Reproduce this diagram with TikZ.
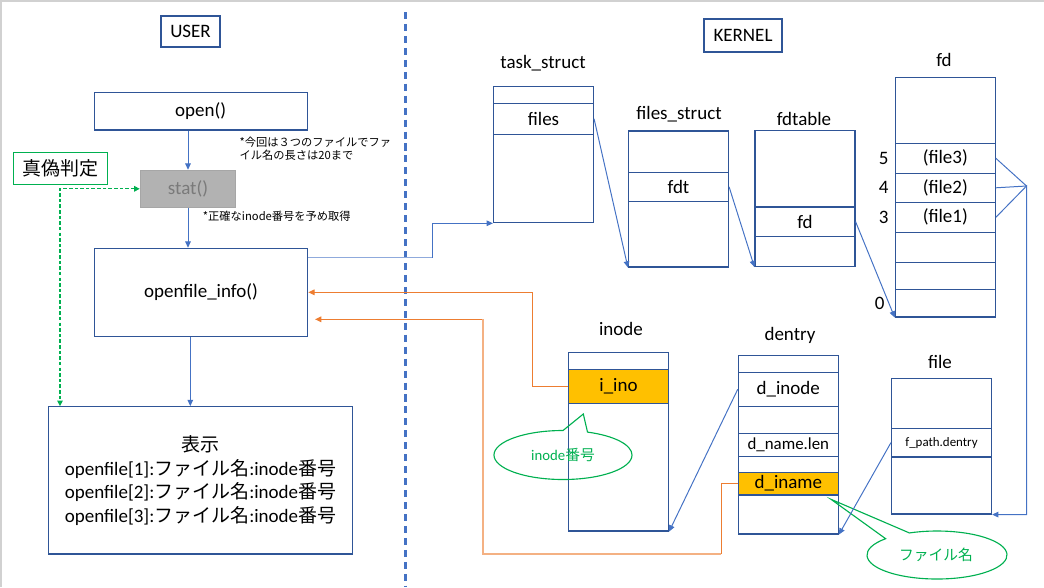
\documentclass[tikz,border=0pt]{standalone}
\usepackage{fontspec}
\setmainfont{Carlito}
\newfontfamily\jpfont{Noto Sans CJK JP}
\usepackage{tikz}
\usetikzlibrary{positioning,arrows.meta}
\definecolor{boxblue}{HTML}{2F5597}
\definecolor{lineblue}{HTML}{4472C4}
\definecolor{lightblue}{HTML}{8FAADC}
\definecolor{orangeline}{HTML}{ED7D31}
\definecolor{peachline}{HTML}{F4B183}
\definecolor{gold}{HTML}{FFC000}
\definecolor{okgreen}{HTML}{00B050}

\begin{document}
\begin{tikzpicture}[x=0.025cm, y=-0.025cm, font=\fontsize{13.5}{16.7}\selectfont]
	\tikzstyle{box_style} = [draw=boxblue, line width=0.8pt, inner sep=0pt]
	\tikzstyle{row_style} = [box_style, minimum width=2.5cm]
	\tikzstyle{hit_style} = [row_style, fill=gold]
	\tikzstyle{edge_style} = [draw=lineblue, line width=0.7pt, -{Triangle[length=4.5pt,width=4pt]}]
	\tikzstyle{line_style} = [draw=lineblue, line width=0.7pt]
	\tikzstyle{orange_edge} = [draw=orangeline, line width=0.8pt, -{Triangle[length=4.5pt,width=4pt]}]
	\tikzstyle{green_dash} = [draw=okgreen, line width=0.8pt, dash pattern=on 2.5pt off 1.5pt, {Triangle[length=4pt,width=4pt]}-{Triangle[length=4pt,width=4pt]}]
	\tikzstyle{callout_style} = [draw=okgreen, line width=0.8pt]
	\tikzstyle{jp_small} = [font=\jpfont\fontsize{8}{9.5}\selectfont]
	\useasboundingbox (0,0) rectangle (1044,587);
	\draw[black!18, line width=1.5pt] (1,587) -- (1,1) -- (1044,1);

	% separator
	\draw[lineblue, line width=1.5pt, dash pattern=on 5pt off 3.5pt] (405.5,12) -- (405.5,587);

	% user side
	\node[box_style, minimum width=1.475cm, minimum height=0.775cm] (user) at (190.5,31.5) {USER};
	\node[box_style, minimum width=5.3175cm, minimum height=0.9425cm] (open) at (200.7,111.2) {open()};
	\node[draw=black!35, fill=black!30, text=black!52, line width=0.8pt, minimum width=2.385cm, minimum height=0.925cm] (stat) at (188,188.8) {stat()};
	\node[draw=okgreen, line width=0.8pt, minimum width=2.36cm, minimum height=0.8cm, font=\jpfont\fontsize{13.5}{16}\selectfont] (judge) at (60.5,168.3) {真偽判定};
	\node[box_style, minimum width=5.335cm, minimum height=2.2cm] (info) at (201,292.3) {openfile\_info()};
	\node[box_style, minimum width=7.59cm, minimum height=3.6825cm, align=center] (disp) at (200.5,480.35)
		{{\jpfont 表示}\\openfile[1]:{\jpfont ファイル名}:inode{\jpfont 番号}\\openfile[2]:{\jpfont ファイル名}:inode{\jpfont 番号}\\openfile[3]:{\jpfont ファイル名}:inode{\jpfont 番号}};
	\node[jp_small, anchor=west, inner sep=0pt, align=left] (note_open) at (239.3,148.4) {*今回は３つのファイルでファ\\イル名の長さは20まで};
	\node[jp_small, anchor=west, inner sep=0pt] (note_stat) at (202.7,216.7) {*正確なinode番号を予め取得};

	% kernel side
	\node[box_style, minimum width=1.95cm, minimum height=0.825cm] (kernel) at (743,35.5) {KERNEL};

	\node (t_task) at (543,63) {task\_struct};
	\node[row_style, minimum height=0.425cm] (ts0) at (543.5,94.8) {};
	\node[row_style, minimum height=0.775cm] (ts1) at (543.5,118.8) {files};
	\node[row_style, minimum height=2.21cm] (ts2) at (543.5,178.5) {};

	\node (t_files) at (679,114) {files\_struct};
	\node[row_style, minimum height=1.0325cm] (fs0) at (678.5,151.65) {};
	\node[row_style, minimum height=0.725cm] (fs1) at (678.5,186.8) {fdt};
	\node[row_style, minimum height=1.6425cm] (fs2) at (678.5,234.15) {};

	\node (t_fdtable) at (804,119) {fdtable};
	\node[row_style, minimum height=1.9175cm] (ft0) at (805,168.65) {};
	\node[row_style, minimum height=0.7325cm] (ft1) at (805,221.65) {fd};
	\node[row_style, minimum height=0.755cm] (ft2) at (805,251.4) {};

	\node (t_fd) at (944,60) {fd};
	\node[row_style, minimum height=1.65cm] (fdx) at (945.3,110.3) {};
	\node[row_style, minimum height=0.75cm] (fd5) at (945.3,158.3) {(file3)};
	\node[row_style, minimum height=0.725cm] (fd4) at (945.3,187.8) {(file2)};
	\node[row_style, minimum height=0.75cm] (fd3) at (945.3,217.3) {(file1)};
	\node[row_style, minimum height=0.75cm] (fd2) at (945.3,247.3) {};
	\node[row_style, minimum height=0.675cm] (fd1) at (945.3,275.8) {};
	\node[row_style, minimum height=0.6925cm] (fd0) at (945.3,303.15) {};
	\node[left=0.03cm of fd5] (i5) {5};
	\node[left=0.03cm of fd4] (i4) {4};
	\node[left=0.03cm of fd3] (i3) {3};
	\node[left=0.13cm of fd0] (i0) {0};

	\node (t_file) at (940,362) {file};
	\node[row_style, minimum height=1.24cm] (fl0) at (941.5,403.5) {};
	\node[row_style, minimum height=0.7175cm, font=\fontsize{9.2}{11}\selectfont] (fl1) at (941.5,442.65) {f\_path.dentry};
	\node[row_style, minimum height=1.425cm] (fl2) at (941.5,485.5) {};

	\node (t_inode) at (621,329) {inode};
	\node[row_style, minimum height=0.425cm] (in0) at (618.5,360.8) {};
	\node[hit_style, minimum height=0.85cm] (in1) at (618.5,386.3) {i\_ino};
	\node[row_style, minimum height=3.1925cm] (in2) at (618.5,467.15) {};

	\node (t_dentry) at (790,335) {dentry};
	\node[row_style, minimum height=0.425cm] (de0) at (788.3,363.8) {};
	\node[row_style, minimum height=0.85cm] (de1) at (788.3,389.3) {d\_inode};
	\node[row_style, minimum height=0.685cm] (de2) at (788.3,420) {};
	\node[row_style, minimum height=0.565cm, font=\fontsize{12}{14}\selectfont] (de3) at (788.3,445) {d\_name.len};
	\node[row_style, minimum height=0.4cm] (de4) at (788.3,464.3) {};
	\node[hit_style, minimum height=0.5675cm] (de5) at (788.3,483.65) {d\_iname};
	\node[row_style, minimum height=0.975cm] (de6) at (788.3,514.5) {};

	% callouts
	\draw[callout_style] (563,455) ++(90:1.725cm and 0.6125cm) arc[start angle=90, end angle=429.2, x radius=1.725cm, y radius=0.6125cm] -- (583.3,414) -- cycle;
	\node[text=okgreen, font=\fontsize{10.5}{12}\selectfont] (c_inode) at (563,455) {inode{\jpfont 番号}};
	\draw[callout_style] (937,555) ++(137.2:1.75cm and 0.6cm) arc[start angle=137.2, end angle=473.2, x radius=1.75cm, y radius=0.6cm] -- (831,499.3) -- cycle;
	\node[text=okgreen, font=\jpfont\fontsize{10.5}{12}\selectfont] (c_name) at (936,555) {ファイル名};

	% user side arrows
	\draw[edge_style] (open.south -| stat.north) -- (stat.north);
	\draw[edge_style] (stat.south) -- (info.north -| stat.south);
	\coordinate (info_out) at (190.3,0);
	\draw[edge_style] (info.south -| info_out) -- (disp.north -| info_out);
	\coordinate (g_corner) at (60,188.8);
	\draw[green_dash] (stat.west) -- (g_corner) -- (g_corner |- disp.north);

	% kernel side arrows
	\coordinate (k_turn) at (432.3,257.7);
	\draw[edge_style] (info.east |- k_turn) -- (k_turn) |- (ts2.south west);
	\draw[lightblue, line width=1pt] (info.east |- k_turn) -- (k_turn);
	\draw[edge_style] (ts1.east) -- (fs2.south west);
	\draw[edge_style] (fs1.east) -- (ft2.south west);
	\draw[edge_style] (ft1.east) -- (fd0.south west);
	\coordinate (fd_join) at (1026.5,186);
	\draw[line_style] (fd5.east) -- (fd_join);
	\draw[line_style] (fd4.east) -- (fd_join);
	\draw[edge_style] (fd3.east) -- (fd_join) |- (fl2.south east);
	\draw[edge_style] (fl1.west) -- (de6.south east);
	\draw[edge_style] (de1.west) -- (in2.south east);

	% results back to user
	\coordinate (o_turn) at (532.3,0);
	\draw[orange_edge] (in1.west) -- (in1.west -| o_turn) |- (info.east);
	\coordinate (p_turn1) at (721.3,553.7);
	\coordinate (p_turn2) at (483.3,319.3);
	\coordinate (p_end) at (315,319.3);
	\draw[orange_edge] (de5.west) -| (p_turn1) -| (p_turn2) -- (p_end);
	\draw[peachline, line width=1.2pt] (p_turn1) -| (p_turn2);
\end{tikzpicture}
\end{document}
